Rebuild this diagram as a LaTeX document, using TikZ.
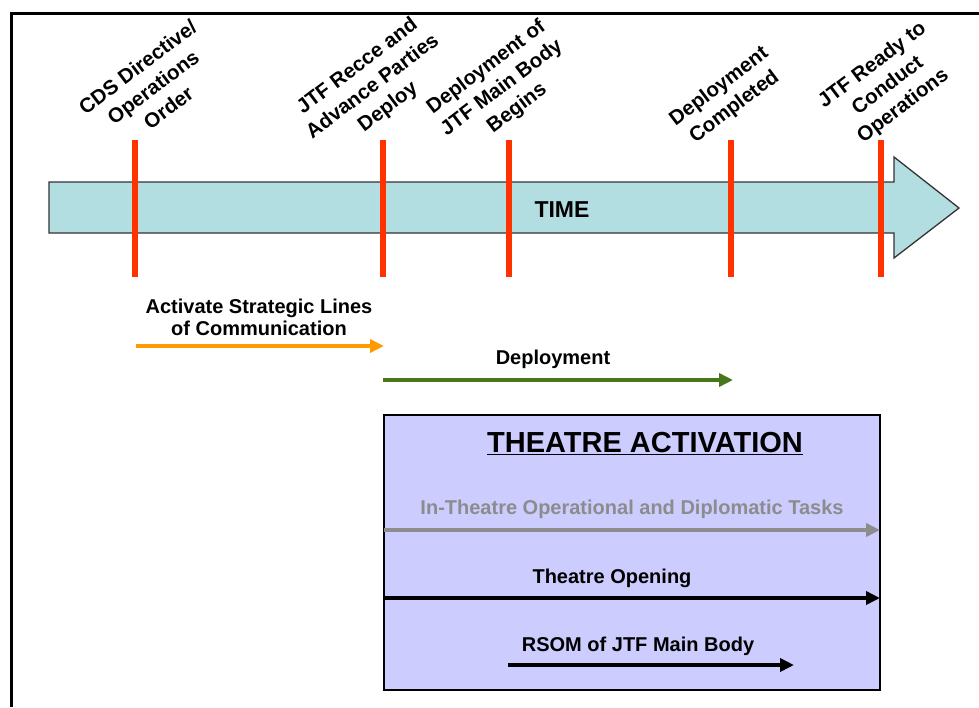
\documentclass[tikz,border=0pt]{standalone}
\usepackage{fontspec}
\setmainfont{Liberation Sans}
\usetikzlibrary{arrows.meta}
\definecolor{timefill}{RGB}{178,222,226}
\definecolor{milered}{RGB}{255,50,0}
\definecolor{slocorange}{RGB}{255,155,0}
\definecolor{deploygreen}{RGB}{72,118,26}
\definecolor{theatrefill}{RGB}{204,204,255}
\definecolor{taskgray}{RGB}{140,140,140}

\begin{document}
\begin{tikzpicture}[x=1pt, y=-1pt,
    lbl/.style={font=\bfseries\fontsize{20}{23}\selectfont, align=center, inner sep=0pt},
    milelbl/.style={lbl, font=\bfseries\fontsize{20.5}{25.5}\selectfont, rotate=37},
    mileline/.style={milered, line width=6.5pt},
    bar/.style={line width=4.5pt, -{Triangle[length=14pt, width=13pt]}}]
    \useasboundingbox (0,0) rectangle (979,707);

    % --- Outer frame (cut off at right and bottom) ---
    \draw[line width=3pt] (11,707) -- (11,13) -- (979,13);

    % --- Time arrow ---
    \draw[fill=timefill, draw=black!80, line width=1.3pt]
        (49,182) -- (894,182) -- (894,157) -- (959,208) -- (894,258)
        -- (894,233) -- (49,233) -- cycle;
    \node[lbl, font=\bfseries\fontsize{23}{26}\selectfont] (time) at (562,210) {TIME};

    % --- Milestones ---
    \foreach \name/\x in {cds/135, recce/383, main/509, done/731, ready/881} {
        \coordinate (\name top) at (\x,140);
        \coordinate (\name bot) at (\x,277);
        \draw[mileline] (\name top) -- (\name bot);
    }
    \node[milelbl] (cdslbl) at (153,87) {CDS Directive/\\Operations\\Order};
    \node[milelbl] (reccelbl) at (373,87) {JTF Recce and\\Advance Parties\\Deploy};
    \node[milelbl] (mainlbl) at (502,88) {Deployment of\\JTF Main Body\\Begins};
    \node[milelbl] (donelbl) at (727,97) {Deployment\\Completed};
    \node[milelbl] (readylbl) at (888,86) {JTF Ready to\\Conduct\\Operations};

    % --- Strategic lines of communication ---
    \coordinate (sloc1) at (136,346);
    \coordinate (sloc2) at (384,346);
    \draw[bar, slocorange] (sloc1) -- (sloc2);
    \node[lbl, font=\bfseries\fontsize{20}{22}\selectfont] (sloclbl) at (259,317)
        {Activate Strategic Lines\\of Communication};

    % --- Deployment ---
    \coordinate (dep1) at (383,380);
    \coordinate (dep2) at (733,380);
    \draw[bar, deploygreen] (dep1) -- (dep2);
    \node[lbl] (deplbl) at (553,359) {Deployment};

    % --- Theatre activation box ---
    \draw[fill=theatrefill, line width=1.5pt] (384,415) rectangle (880,690);
    \node[lbl, font=\bfseries\fontsize{29}{32}\selectfont] (ta) at (645,444)
        {\underline{THEATRE ACTIVATION}};

    \coordinate (task1) at (384,530);
    \coordinate (task2) at (880,530);
    \draw[bar, taskgray, line width=4pt] (task1) -- (task2);
    \node[lbl, text=taskgray] (tasklbl) at (632,509)
        {In-Theatre Operational and Diplomatic Tasks};

    \coordinate (open1) at (384,598);
    \coordinate (open2) at (880,598);
    \draw[bar] (open1) -- (open2);
    \node[lbl] (openlbl) at (612,578) {Theatre Opening};

    \coordinate (rsom1) at (508,665);
    \coordinate (rsom2) at (794,665);
    \draw[bar] (rsom1) -- (rsom2);
    \node[lbl] (rsomlbl) at (638,646) {RSOM of JTF Main Body};
\end{tikzpicture}
\end{document}
